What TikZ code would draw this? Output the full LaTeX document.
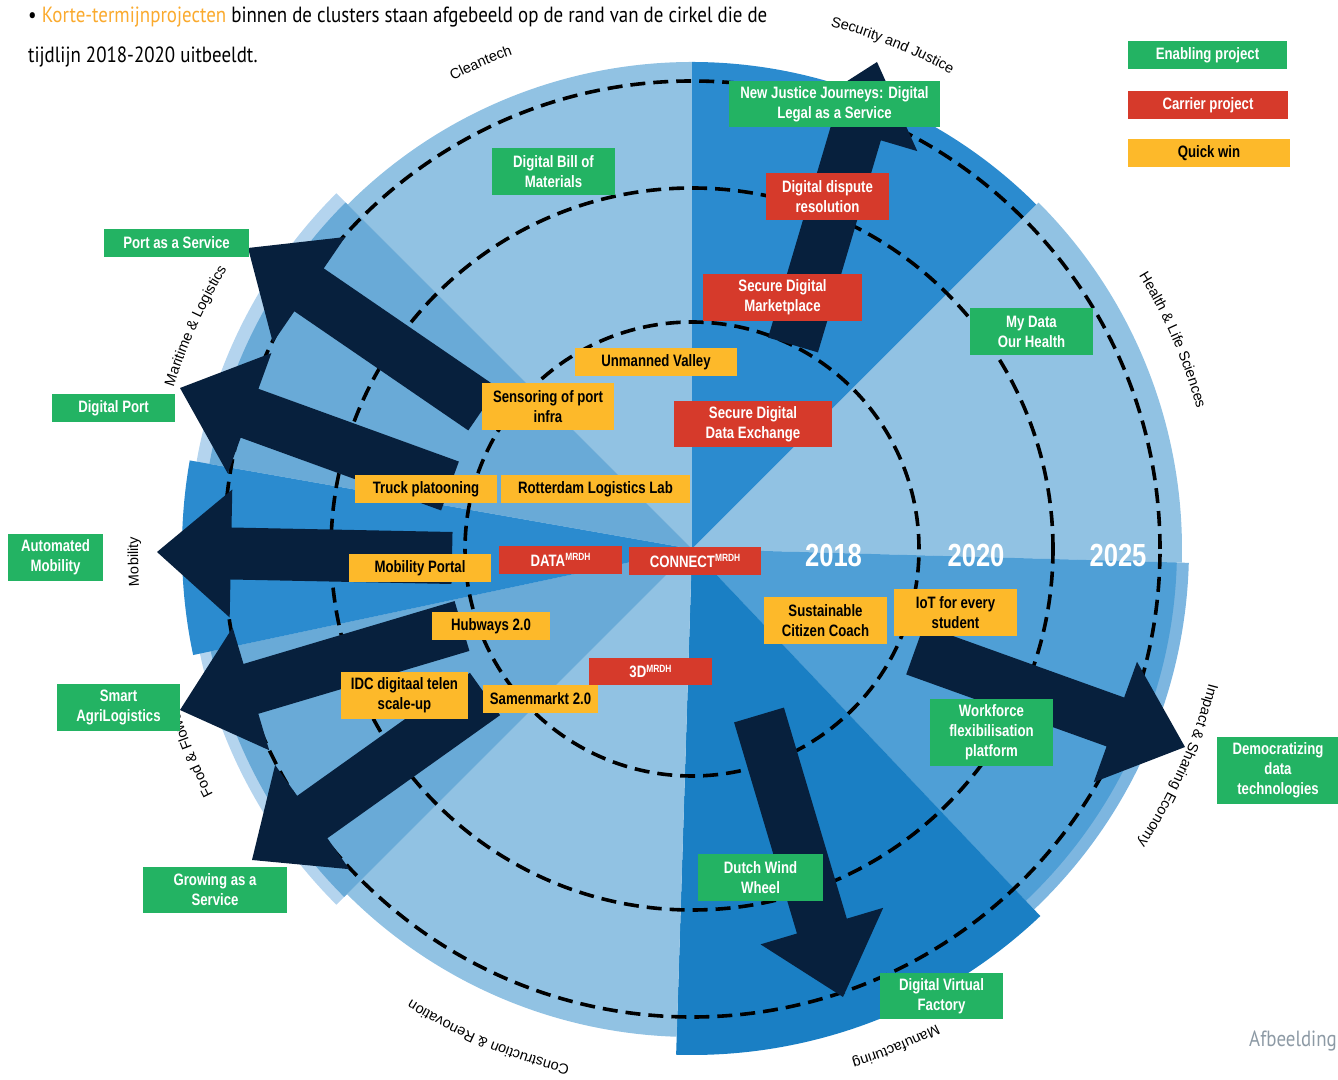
\documentclass[tikz,border=0pt]{standalone}
\usepackage{fontspec}
\setmainfont{Liberation Sans}
\newfontfamily\narrowfont[FakeStretch=0.8]{Liberation Sans}
\newfontfamily\introfont[FakeStretch=0.86]{PT Sans}
\usetikzlibrary{calc, decorations.text}

\definecolor{pale}{HTML}{B4D4EE}
\definecolor{lightsec}{HTML}{91C2E3}
\definecolor{midsec}{HTML}{69AAD7}
\definecolor{brightsec}{HTML}{2B8BCF}
\definecolor{impactsec}{HTML}{4F9FD6}
\definecolor{impactrim}{HTML}{7DB6E0}
\definecolor{darksec}{HTML}{1A7FC4}
\definecolor{navy}{HTML}{07203D}
\definecolor{enabling}{HTML}{23B363}
\definecolor{carrier}{HTML}{D63A2B}
\definecolor{quickwin}{HTML}{FDB92A}
\definecolor{intro}{HTML}{FAAA2E}
\definecolor{caption}{HTML}{8D9AA5}

\newcommand{\mrdh}{\raisebox{5.7pt}{\fontsize{10.5}{11}\selectfont MRDH}}
\newcommand{\clusterfont}{\fontsize{14.5}{16}\selectfont}

\tikzset{project/.style={inner sep=0pt, outer sep=0pt, align=center, font=\narrowfont\bfseries\fontsize{16.5}{20}\selectfont}}
\tikzset{enabling box/.style={project, fill=enabling, text=white}}
\tikzset{carrier box/.style={project, fill=carrier, text=white}}
\tikzset{quickwin box/.style={project, fill=quickwin, text=black}}
\tikzset{timeline/.style={draw=black, line width=3.6pt, dash pattern=on 15pt off 8pt}}
\tikzset{year/.style={text=white, inner sep=0pt, font=\narrowfont\bfseries\fontsize{32}{34}\selectfont}}
\tikzset{intro text/.style={anchor=base west, inner sep=0pt, font=\introfont\fontsize{22}{26}\selectfont}}

% wedge of one cluster: colour, start, end, radius
\newcommand{\clustersector}[4]{\fill[#1] (C) -- ++(#2:#4) arc[start angle=#2, end angle=#3, radius=#4] -- cycle;}
% cluster name along the rim: angle, radius, text
\newcommand{\clusterlabel}[3]{\path[decorate, decoration={text along path, text align=center, text={|\clusterfont|#3}}]
    ($(C)+(#1+20:#2)$) arc[start angle=#1+20, end angle=#1-20, radius=#2];}
% fat arrow from tail to tip
\newcommand{\blockarrow}[2]{%
    \coordinate (ab) at ($(#2)!74pt!(#1)$);
    \fill[navy] ($(#1)!26pt!90:(#2)$) -- ($(ab)!26pt!-90:(#1)$) -- ($(ab)!64pt!-90:(#1)$) -- (#2)
        -- ($(ab)!64pt!90:(#1)$) -- ($(ab)!26pt!90:(#1)$) -- ($(#1)!26pt!-90:(#2)$) -- cycle;}

\begin{document}
\begin{tikzpicture}[x=1pt, y=1pt]
                    %\draw[help lines] (0,0) grid (1338,1079);
                    \useasboundingbox (0,0) rectangle (1338,1079);
                    \coordinate (C) at (692,530);

                    % clusters
                    \clustersector{pale}{135}{225}{503pt}
                    \clustersector{impactrim}{-46.5}{-1.6}{497pt}
                    \clustersector{lightsec}{90}{135}{487pt}
                    \clustersector{brightsec}{45}{90}{487pt}
                    \clustersector{lightsec}{-1.6}{45}{490pt}
                    \clustersector{impactsec}{-46.5}{-1.6}{485pt}
                    \clustersector{darksec}{-91.8}{-46.5}{506pt}
                    \clustersector{lightsec}{225}{268.2}{488pt}
                    \clustersector{midsec}{192}{225}{492pt}
                    \clustersector{brightsec}{170}{192}{510pt}
                    \clustersector{midsec}{135}{170}{490pt}

                    \draw[timeline] (C) circle[radius=227pt];
                    \draw[timeline] (C) circle[radius=361pt];
                    \draw[timeline] (C) circle[radius=468pt];

                    \clusterlabel{113.5}{526pt}{Cleantech}
                    \clusterlabel{68.3}{541pt}{Security and Justice}
                    \clusterlabel{23.5}{524pt}{Health {\&} Life Sciences}
                    \clusterlabel{-24}{534pt}{Impact {\&} Sharing Economy}
                    \clusterlabel{-67.7}{535pt}{Manufacturing}
                    \clusterlabel{-112.6}{531pt}{Construction {\&} Renovation}
                    \clusterlabel{201.7}{538pt}{Food {\&} Flowers}
                    \clusterlabel{181.3}{554pt}{Mobility}
                    \clusterlabel{155.8}{543pt}{Maritime {\&} Logistics}

                    % arrows towards the rim
                    \coordinate (tailJustice) at (793,734);  \coordinate (tipJustice) at (877,1017);
                    \coordinate (tailPort) at (483,670);     \coordinate (tipPort) at (248,831);
                    \coordinate (tailDigPort) at (450,593);  \coordinate (tipDigPort) at (180,691);
                    \coordinate (tailMobility) at (452,521); \coordinate (tipMobility) at (157,527);
                    \coordinate (tailAgri) at (462,453);     \coordinate (tipAgri) at (180,369);
                    \coordinate (tailGrowing) at (485,385);  \coordinate (tipGrowing) at (252,219);
                    \coordinate (tailData) at (915,429);     \coordinate (tipData) at (1185,332);
                    \coordinate (tailFactory) at (759,364);  \coordinate (tipFactory) at (843,82);

                    \blockarrow{tailJustice}{tipJustice}
                    \blockarrow{tailPort}{tipPort}
                    \blockarrow{tailDigPort}{tipDigPort}
                    \blockarrow{tailMobility}{tipMobility}
                    \blockarrow{tailAgri}{tipAgri}
                    \blockarrow{tailGrowing}{tipGrowing}
                    \blockarrow{tailData}{tipData}
                    \blockarrow{tailFactory}{tipFactory}

                    \node[year] (y2018) at (833.5,524) {2018};
                    \node[year] (y2020) at (976,524) {2020};
                    \node[year] (y2025) at (1118,524) {2025};

                    % enabling projects
                    \node[enabling box, minimum width=211pt, minimum height=46pt] (justice) at (834.5,975) {New Justice Journeys: Digital\\Legal as a Service};
                    \node[enabling box, minimum width=123pt, minimum height=47pt] (billMaterials) at (553.5,907.5) {Digital Bill of\\Materials};
                    \node[enabling box, minimum width=145pt, minimum height=28pt] (portService) at (176.5,836) {Port as a Service};
                    \node[enabling box, minimum width=123pt, minimum height=28pt] (digitalPort) at (113.5,671) {Digital Port};
                    \node[enabling box, minimum width=95pt, minimum height=47pt] (autoMobility) at (55.5,521.5) {Automated\\Mobility};
                    \node[enabling box, minimum width=123pt, minimum height=47pt] (agriLogistics) at (118.5,371.5) {Smart\\AgriLogistics};
                    \node[enabling box, minimum width=144pt, minimum height=46pt] (growing) at (215,189) {Growing as a\\Service};
                    \node[enabling box, minimum width=123pt, minimum height=47pt] (myData) at (1031.5,747.5) {My Data\\Our Health};
                    \node[enabling box, minimum width=123pt, minimum height=67pt] (workforce) at (991.5,346.5) {Workforce\\flexibilisation\\platform};
                    \node[enabling box, minimum width=122pt, minimum height=67pt] (democratizing) at (1278,308.5) {Democratizing\\data\\technologies};
                    \node[enabling box, minimum width=125pt, minimum height=47pt] (windWheel) at (760.5,201.5) {Dutch Wind\\Wheel};
                    \node[enabling box, minimum width=123pt, minimum height=46pt] (virtualFactory) at (941.5,83) {Digital Virtual\\Factory};

                    % carrier projects
                    \node[carrier box, minimum width=123pt, minimum height=47pt] (dispute) at (827.5,882.5) {Digital dispute\\resolution};
                    \node[carrier box, minimum width=159pt, minimum height=47pt] (marketplace) at (782.5,781.5) {Secure Digital\\Marketplace};
                    \node[carrier box, minimum width=158pt, minimum height=46pt] (dataExchange) at (753,655) {Secure Digital\\Data Exchange};
                    \node[carrier box, minimum width=123pt, minimum height=28pt] (dataMrdh) at (560.5,519) {DATA\mrdh};
                    \node[carrier box, minimum width=132pt, minimum height=28pt] (connectMrdh) at (695,518) {CONNECT\mrdh};
                    \node[carrier box, minimum width=123pt, minimum height=27pt] (threeD) at (650.5,407.5) {3D\mrdh};

                    % quick wins
                    \node[quickwin box, minimum width=162pt, minimum height=28pt] (valley) at (656,717) {Unmanned Valley};
                    \node[quickwin box, minimum width=132pt, minimum height=47pt] (sensoring) at (548,672.5) {Sensoring of port\\infra};
                    \node[quickwin box, minimum width=142pt, minimum height=28pt] (truck) at (426,590) {Truck platooning};
                    \node[quickwin box, minimum width=189pt, minimum height=28pt] (rotterdam) at (595.5,590) {Rotterdam Logistics Lab};
                    \node[quickwin box, minimum width=142pt, minimum height=28pt] (mobPortal) at (420,511) {Mobility Portal};
                    \node[quickwin box, minimum width=118pt, minimum height=28pt] (hubways) at (491,453) {Hubways 2.0};
                    \node[quickwin box, minimum width=127pt, minimum height=47pt] (idc) at (404.5,383.5) {IDC digitaal telen\\scale-up};
                    \node[quickwin box, minimum width=115pt, minimum height=28pt] (samenmarkt) at (540.5,380) {Samenmarkt 2.0};
                    \node[quickwin box, minimum width=123pt, minimum height=47pt] (citizenCoach) at (825.5,458.5) {Sustainable\\Citizen Coach};
                    \node[quickwin box, minimum width=123pt, minimum height=47pt] (iot) at (955.5,466.5) {IoT for every\\student};

                    % legend
                    \node[enabling box, minimum width=159pt, minimum height=28pt] (legEnabling) at (1207.5,1024) {Enabling project};
                    \node[carrier box, minimum width=160pt, minimum height=28pt] (legCarrier) at (1208,974) {Carrier project};
                    \node[quickwin box, minimum width=162pt, minimum height=28pt] (legQuick) at (1209,926) {Quick win};

                    \node[intro text] (introA) at (28,1056) {\textbullet\ \textcolor{intro}{Korte-termijnprojecten} binnen de clusters staan afgebeeld op de rand van de cirkel die de};
                    \node[intro text] (introB) at (28,1016) {tijdlijn 2018-2020 uitbeeldt.};
                    \node[intro text, anchor=base east, text=caption] (figCaption) at (1337,33) {Afbeelding};

\end{tikzpicture}
\end{document}
